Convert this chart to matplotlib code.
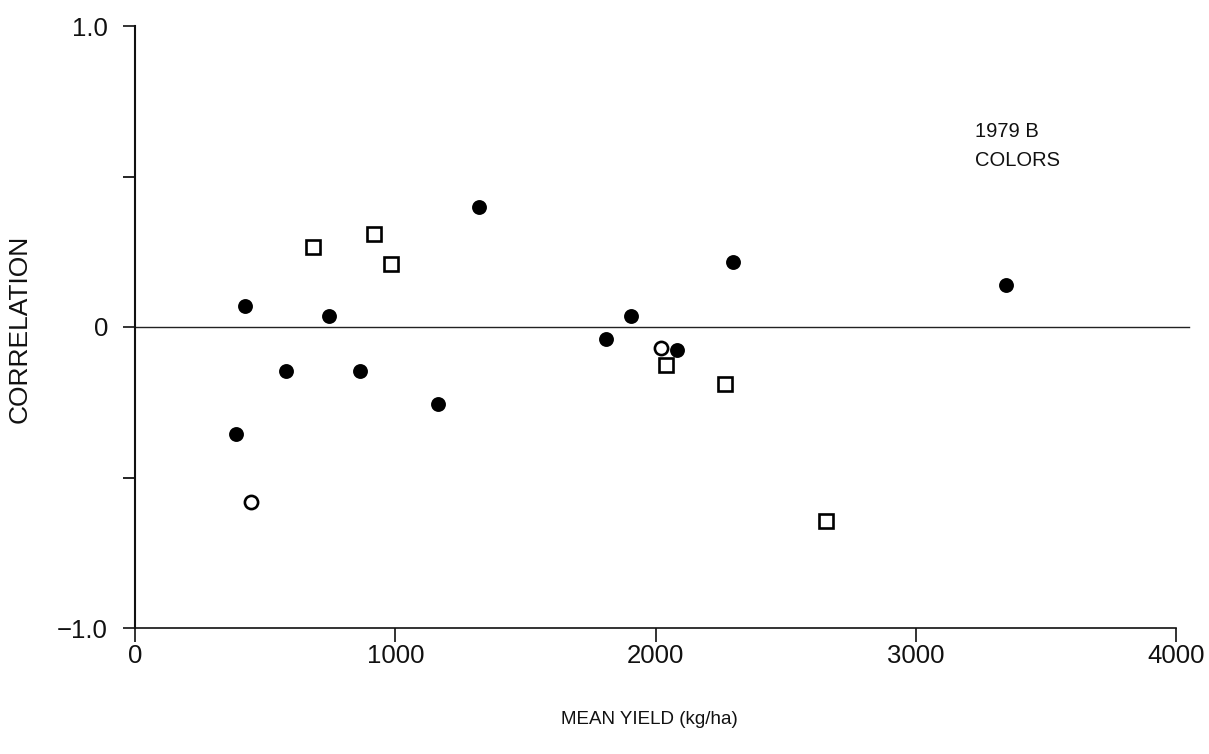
import matplotlib
matplotlib.use("Agg")
import matplotlib.pyplot as plt

# Data
filled_x = [388, 422, 580, 745, 864, 1163, 1320, 1808, 1904, 2081, 2296, 3344]
filled_y = [-0.355, 0.07, -0.145, 0.035, -0.145, -0.255, 0.40, -0.04, 0.035, -0.075, 0.215, 0.14]
open_x = [445, 2019]
open_y = [-0.58, -0.07]
square_x = [684, 917, 983, 2038, 2265, 2656]
square_y = [0.265, 0.31, 0.21, -0.125, -0.19, -0.645]

x_ticks = [0, 1000, 2000, 3000, 4000]
x_ticklabels = ["0", "1000", "2000", "3000", "4000"]
y_ticks = [-1.0, 0, 1.0]
y_ticklabels = ["\u22121.0", "0", "1.0"]
y_minor = [-0.5, 0.5]

plt.rcParams['font.family'] = ['Liberation Sans', 'DejaVu Sans']

W, H = 1209, 754
fig = plt.figure(figsize=(W / 100, H / 100), dpi=100)
left_px, right_px = 135, 1192
top_px, bot_px = 26, 628
ax = fig.add_axes([left_px / W, 1 - bot_px / H, (right_px - left_px) / W, (bot_px - top_px) / H])
ax.set_xlim(0, 4060)
ax.set_ylim(-1.0, 1.0)

ax.spines['top'].set_visible(False)
ax.spines['right'].set_visible(False)
ax.spines['left'].set_linewidth(1.5)
ax.spines['bottom'].set_linewidth(1.2)
ax.spines['bottom'].set_bounds(0, 4000)
for s in ('left', 'bottom'):
    ax.spines[s].set_color('#111111')

# zero reference line
ax.plot([0, 4050], [0, 0], color='#222222', lw=1.0, zorder=1)

ax.plot(filled_x, filled_y, 'o', ms=9.5, mfc='black', mec='black', mew=1.2, ls='none', zorder=3)
ax.plot(open_x, open_y, 'o', ms=9.5, mfc='white', mec='black', mew=1.9, ls='none', zorder=3)
ax.plot(square_x, square_y, 's', ms=9.5, mfc='white', mec='black', mew=1.9, ls='none', zorder=3)

ax.set_xticks(x_ticks)
ax.set_xticklabels(x_ticklabels)
ax.set_yticks(y_ticks)
ax.set_yticklabels(y_ticklabels)
ax.set_yticks(y_minor, minor=True)
ax.tick_params(axis='x', direction='out', length=10, width=1.2, pad=1.5, labelsize=18.5, colors='#111111')
ax.tick_params(axis='y', direction='out', length=8.5, width=1.2, pad=11, labelsize=18.5, colors='#111111')
ax.tick_params(axis='y', which='minor', direction='out', length=8.5, width=1.2)

ax.text(3228, 0.65, "1979 B", fontsize=14.5, color='#111111', ha='left', va='center')
ax.text(3228, 0.553, "COLORS", fontsize=14.5, color='#111111', ha='left', va='center')

fig.text(20 / W, 1 - 329 / H, "CORRELATION", rotation=90, ha='center', va='center',
         fontsize=19, color='#111111')
fig.text(649 / W, 1 - 720 / H, "MEAN YIELD (kg/ha)", ha='center', va='center',
         fontsize=13.5, color='#111111')

fig.savefig("out.png", dpi=100)
